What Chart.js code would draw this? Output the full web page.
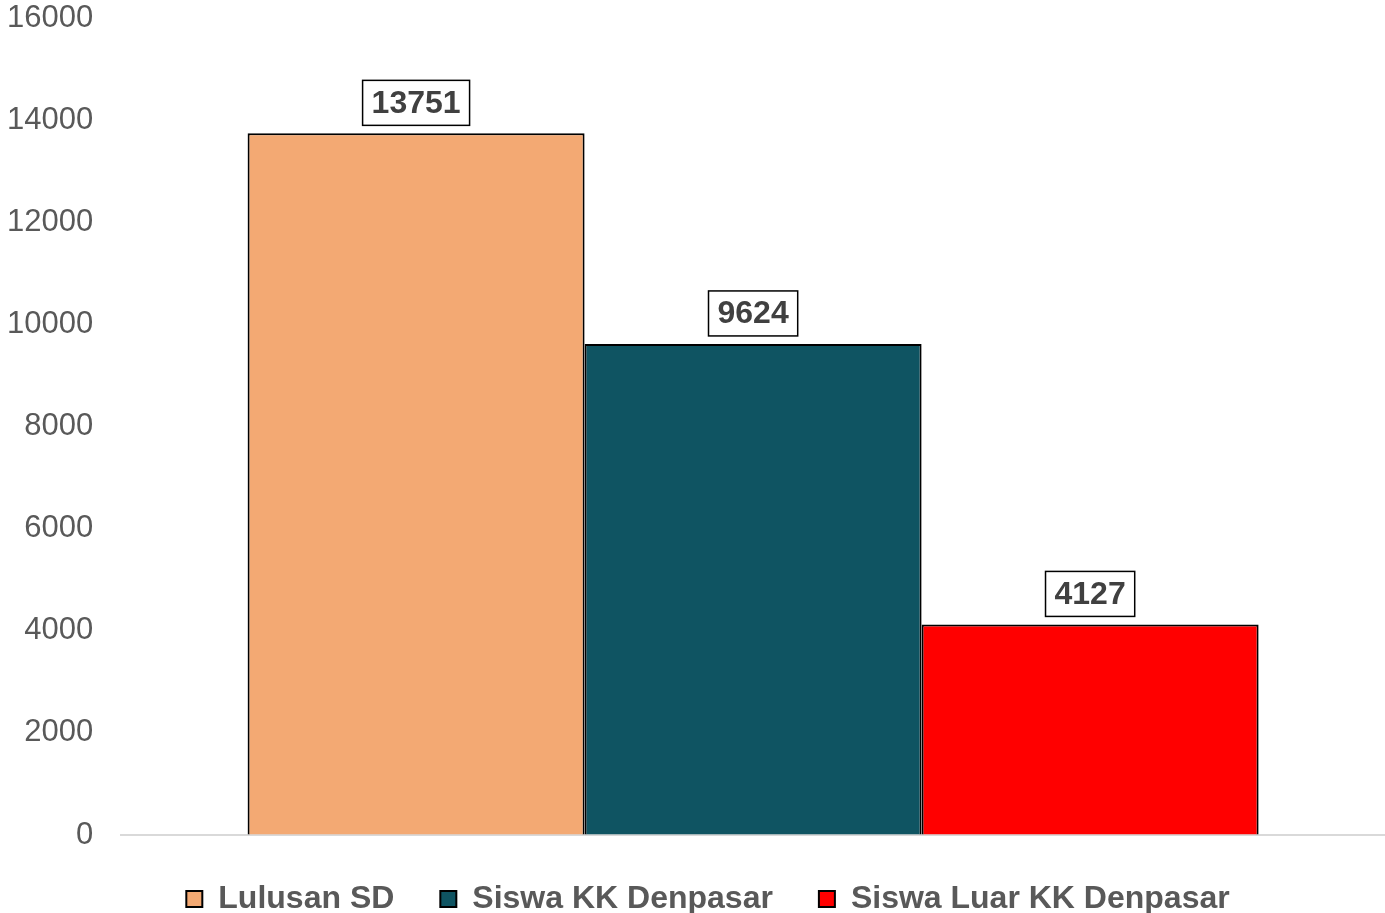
<!DOCTYPE html>
<html>
<head>
<meta charset="utf-8">
<script src="https://cdn.jsdelivr.net/npm/chart.js@4"></script>
<style>
  html, body { margin: 0; padding: 0; background: #ffffff; }
  #wrap { width: 1385px; height: 913px; }
</style>
</head>
<body>
<div id="wrap"><canvas id="c"></canvas></div>
<script>
const categories = [''];
const seriesNames = ['Lulusan SD', 'Siswa KK Denpasar', 'Siswa Luar KK Denpasar'];
const lulusanSD = [13751];
const siswaKK = [9624];
const siswaLuarKK = [4127];
const yTicks = [0, 2000, 4000, 6000, 8000, 10000, 12000, 14000, 16000];

const FONT = "'Liberation Sans', Arial, sans-serif";

const labelPlugin = {
  id: 'boxedLabels',
  afterDatasetsDraw(chart) {
    const ctx = chart.ctx;
    ctx.save();
    ctx.font = 'bold 32px ' + FONT;
    ctx.textAlign = 'center';
    ctx.textBaseline = 'middle';
    chart.data.datasets.forEach((ds, i) => {
      const meta = chart.getDatasetMeta(i);
      meta.data.forEach((el, j) => {
        const txt = String(ds.data[j]);
        const w = ctx.measureText(txt).width + 18;
        const h = 45;
        const x = el.x - w / 2;
        const y = el.y - 8 - h;
        ctx.fillStyle = '#ffffff';
        ctx.fillRect(x, y, w, h);
        ctx.lineWidth = 1.5;
        ctx.strokeStyle = '#000000';
        ctx.strokeRect(x, y, w, h);
        ctx.fillStyle = '#404040';
        ctx.fillText(txt, el.x, y + h / 2 + 1);
      });
    });
    ctx.restore();
  }
};

const legendShift = {
  id: 'legendShift',
  afterLayout(chart) {
    if (chart.legend) {
      chart.legend.left += 12;
      chart.legend.right += 12;
      chart.legend.top -= 6;
      chart.legend.bottom -= 6;
    }
  }
};

new Chart(document.getElementById('c'), {
  type: 'bar',
  data: {
    labels: categories,
    datasets: [
      { label: seriesNames[0], data: lulusanSD, backgroundColor: '#F3A973', borderColor: '#000000', borderWidth: 2 },
      { label: seriesNames[1], data: siswaKK, backgroundColor: '#0F5462', borderColor: '#000000', borderWidth: 2 },
      { label: seriesNames[2], data: siswaLuarKK, backgroundColor: '#FF0000', borderColor: '#000000', borderWidth: 2 }
    ]
  },
  options: {
    responsive: true,
    maintainAspectRatio: false,
    animation: false,
    devicePixelRatio: 1,
    layout: { padding: { left: 7, right: 0, top: 0, bottom: -18 } },
    datasets: { bar: { barPercentage: 1.0, categoryPercentage: 0.8 } },
    scales: {
      x: {
        grid: { display: false },
        ticks: { display: false },
        border: { display: true, color: '#d9d9d9', width: 2 }
      },
      y: {
        min: 0,
        max: 16000,
        afterBuildTicks(axis) { axis.ticks = yTicks.map(v => ({ value: v })); },
        grid: {
          display: true,
          drawOnChartArea: false,
          drawTicks: true,
          tickLength: 28,
          color: 'rgba(0,0,0,0)',
          tickColor: 'rgba(0,0,0,0)'
        },
        border: { display: false },
        ticks: {
          padding: 0,
          color: '#595959',
          font: { family: FONT, size: 31 },
          callback: (v) => String(v)
        }
      }
    },
    plugins: {
      tooltip: { enabled: false },
      legend: {
        position: 'bottom',
        labels: {
          boxWidth: 16,
          boxHeight: 16,
          padding: 46,
          color: '#595959',
          font: { family: FONT, size: 32, weight: 'bold' }
        }
      }
    }
  },
  plugins: [labelPlugin, legendShift]
});
</script>
</body>
</html>
